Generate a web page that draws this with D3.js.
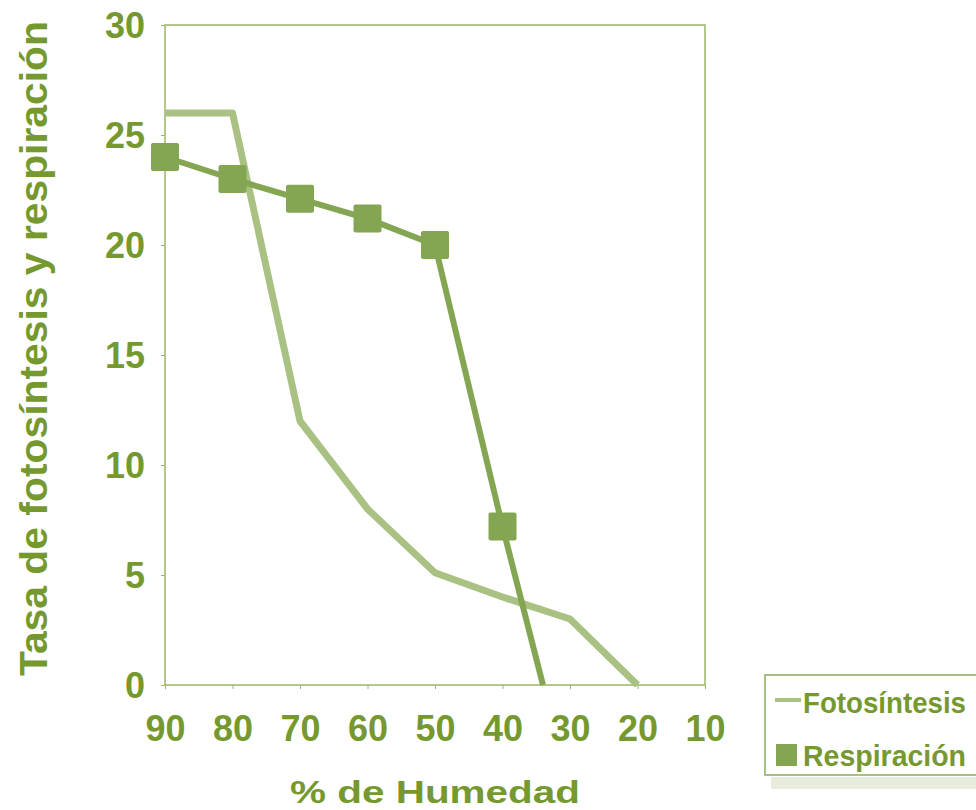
<!DOCTYPE html>
<html>
<head>
<meta charset="utf-8">
<script src="https://cdn.jsdelivr.net/npm/d3@7"></script>
<style>
  body { margin: 0; background: #fff; }
  svg { font-family: "Liberation Sans", Arial, sans-serif; }
</style>
</head>
<body>
<div id="chart"></div>
<script>
// humidity (%) on x, rate on y
const fotoX = [90, 80, 70, 60, 50, 40, 30, 20];
const fotoY = [26, 26, 12, 8, 5.1, 4, 3, 0];
const respX = [90, 80, 70, 60, 50, 40, 34];
const respY = [24, 23, 22.1, 21.2, 20, 7.2, 0];
const respMarked = [true, true, true, true, true, true, false];
const xTicks = [90, 80, 70, 60, 50, 40, 30, 20, 10];
const yTicks = [0, 5, 10, 15, 20, 25, 30];

const width = 976, height = 810;
const textColor = "#76992f";
const fotoColor = "#a9c283";
const respColor = "#84a653";

const svg = d3.select("#chart")
  .append("svg")
  .attr("width", width)
  .attr("height", height);

const x = d3.scaleLinear().domain([90, 10]).range([165, 705]);
const y = d3.scaleLinear().domain([0, 30]).range([685, 25]);

// frame
svg.append("rect")
  .attr("x", x(90)).attr("y", y(30))
  .attr("width", x(10) - x(90)).attr("height", y(0) - y(30))
  .attr("fill", "none")
  .attr("stroke", "#9cb66a")
  .attr("stroke-width", 1.5);

// axes
const xAxis = svg.append("g")
  .attr("transform", `translate(0,${y(0)})`)
  .call(d3.axisBottom(x).tickValues(xTicks).tickSize(4).tickPadding(26).tickFormat(d3.format("d")));
const yAxis = svg.append("g")
  .attr("transform", `translate(${x(90)},0)`)
  .call(d3.axisLeft(y).tickValues(yTicks).tickSize(4).tickPadding(16));

[xAxis, yAxis].forEach(a => {
  a.select(".domain").remove();
  a.selectAll(".tick line").attr("stroke", "#9cb66a");
  a.selectAll(".tick text")
    .attr("fill", textColor)
    .style("font-size", "36px")
    .style("font-weight", "bold");
});
yAxis.selectAll(".tick text").attr("dy", "0.36em");

// lines
const line = d3.line().x(d => x(d[0])).y(d => y(d[1]));

svg.append("path")
  .datum(fotoX.map((v, i) => [v, fotoY[i]]))
  .attr("d", line)
  .attr("fill", "none")
  .attr("stroke", fotoColor)
  .attr("stroke-width", 7)
  .attr("stroke-linejoin", "round");

const respData = respX.map((v, i) => [v, respY[i], respMarked[i]]);

svg.append("path")
  .datum(respData)
  .attr("d", line)
  .attr("fill", "none")
  .attr("stroke", respColor)
  .attr("stroke-width", 6)
  .attr("stroke-linejoin", "round");

const ms = 28;
svg.append("g")
  .selectAll("rect")
  .data(respData.filter(d => d[2]))
  .join("rect")
  .attr("x", d => x(d[0]) - ms / 2)
  .attr("y", d => y(d[1]) - ms / 2)
  .attr("width", ms)
  .attr("height", ms)
  .attr("rx", 2)
  .attr("fill", respColor);

// axis titles
svg.append("text")
  .attr("x", 290)
  .attr("y", 803)
  .attr("textLength", 290)
  .attr("lengthAdjust", "spacingAndGlyphs")
  .attr("fill", textColor)
  .style("font-size", "32px")
  .style("font-weight", "bold")
  .text("% de Humedad");

svg.append("text")
  .attr("transform", `translate(47,676) rotate(-90)`)
  .attr("textLength", 655)
  .attr("lengthAdjust", "spacingAndGlyphs")
  .attr("fill", textColor)
  .style("font-size", "38px")
  .style("font-weight", "bold")
  .text("Tasa de fotosíntesis y respiración");

// legend
const lg = svg.append("g").attr("transform", "translate(765,675)");
lg.append("rect")
  .attr("x", 6).attr("y", 102)
  .attr("width", 215).attr("height", 12)
  .attr("fill", "#e7ecdd");
lg.append("rect")
  .attr("x", 0).attr("y", 0)
  .attr("width", 215).attr("height", 100)
  .attr("fill", "#fff")
  .attr("stroke", "#8aaa55")
  .attr("stroke-width", 1.5);
lg.append("line")
  .attr("x1", 10).attr("x2", 36)
  .attr("y1", 25).attr("y2", 25)
  .attr("stroke", fotoColor)
  .attr("stroke-width", 4);
lg.append("rect")
  .attr("x", 11).attr("y", 69)
  .attr("width", 21).attr("height", 22)
  .attr("fill", respColor);
lg.selectAll("text.lbl")
  .data(["Fotosíntesis", "Respiración"])
  .join("text")
  .attr("class", "lbl")
  .attr("x", 38)
  .attr("y", (d, i) => 38 + i * 53)
  .attr("textLength", (d, i) => i ? 163 : 163)
  .attr("lengthAdjust", "spacingAndGlyphs")
  .attr("fill", textColor)
  .style("font-size", "29px")
  .style("font-weight", "bold")
  .text(d => d);
</script>
</body>
</html>
